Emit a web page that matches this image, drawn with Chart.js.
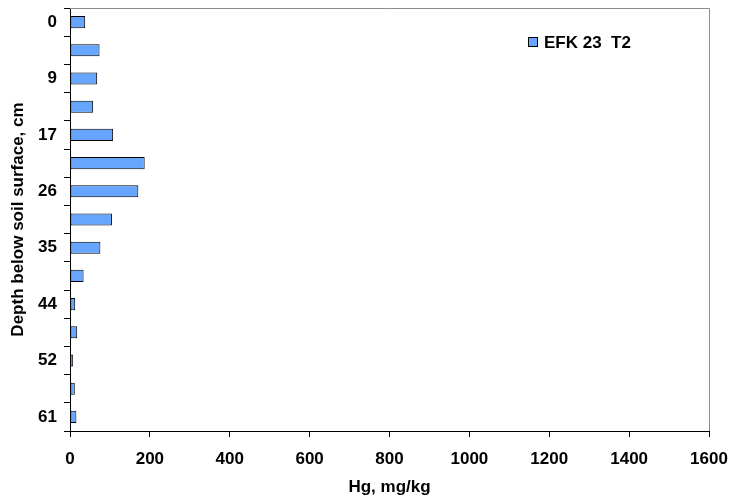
<!DOCTYPE html>
<html>
<head>
<meta charset="utf-8">
<script src="https://cdn.jsdelivr.net/npm/chart.js@4.4.1/dist/chart.umd.min.js"></script>
<style>
  html, body { margin: 0; padding: 0; background: #fff; }
  #wrap { width: 730px; height: 498px; }
</style>
</head>
<body>
<div id="wrap"><canvas id="depthChart"></canvas></div>
<script>
// depth labels (only every other row is labelled in the original)
const depthLabels = ['0', '', '9', '', '17', '', '26', '', '35', '', '44', '', '52', '', '61'];
// Hg concentration, mg/kg
const hgValues = [38, 74, 68, 58, 108, 187, 171, 105, 76, 34, 13, 18, 8, 12, 16];
const xTicks = [0, 200, 400, 600, 800, 1000, 1200, 1400, 1600];
const seriesName = 'EFK 23  T2';

const FONT = 'Arial, "Liberation Sans", sans-serif';

// gray frame on top and right of the plot area
const framePlugin = {
    id: 'framePlugin',
    beforeDatasetsDraw: (chart) => {
        const ctx = chart.ctx;
        const { top, right, left, bottom } = chart.chartArea;
        ctx.save();
        ctx.strokeStyle = '#8c8c8c';
        ctx.lineWidth = 1;
        ctx.beginPath();
        ctx.moveTo(left, top + 0.5);
        ctx.lineTo(right + 0.5, top + 0.5);
        ctx.lineTo(right + 0.5, bottom);
        ctx.stroke();
        ctx.restore();
    }
};

// legend box inside plot area
const legendPlugin = {
    id: 'legendPlugin',
    afterDraw: (chart) => {
        const ctx = chart.ctx;
        const ds = chart.data.datasets[0];
        ctx.save();
        ctx.fillStyle = ds.backgroundColor;
        ctx.strokeStyle = '#000';
        ctx.lineWidth = 1;
        ctx.fillRect(528, 37, 10, 10);
        ctx.strokeRect(528.5, 37.5, 9, 9);
        ctx.fillStyle = '#000';
        ctx.font = 'bold 17px ' + FONT;
        ctx.textAlign = 'left';
        ctx.textBaseline = 'middle';
        ctx.fillText(ds.label, 544, 43);
        ctx.restore();
    }
};

const ctx = document.getElementById('depthChart').getContext('2d');
const chart = new Chart(ctx, {
    type: 'bar',
    data: {
        labels: depthLabels,
        datasets: [{
            label: seriesName,
            data: hgValues,
            backgroundColor: '#66a6ff',
            borderColor: '#000',
            borderWidth: 1,
            borderSkipped: false,
            barPercentage: 0.43,
            categoryPercentage: 1
        }]
    },
    options: {
        indexAxis: 'y',
        responsive: true,
        maintainAspectRatio: false,
        animation: false,
        layout: {
            padding: { top: 8, right: 21, left: 0, bottom: 0 }
        },
        scales: {
            x: {
                min: 0,
                max: 1600,
                afterBuildTicks: (axis) => {
                    axis.ticks = xTicks.map(v => ({ value: v }));
                },
                afterFit: (axis) => {
                    axis.height = 67;
                    axis.paddingLeft = 0;
                    axis.paddingRight = 0;
                },
                grid: {
                    display: true,
                    drawOnChartArea: false,
                    drawTicks: true,
                    tickLength: 6,
                    color: '#000'
                },
                border: { color: '#000', width: 1 },
                ticks: {
                    color: '#000',
                    padding: 12,
                    font: { family: FONT, size: 17, weight: 'bold' },
                    maxRotation: 0,
                    callback: (v) => String(v)
                },
                title: {
                    display: true,
                    text: 'Hg, mg/kg',
                    color: '#000',
                    font: { family: FONT, size: 17, weight: 'bold' },
                    padding: { top: 5, bottom: 0 }
                }
            },
            y: {
                offset: true,
                afterFit: (axis) => {
                    axis.width = 70;
                    axis.paddingTop = 0;
                    axis.paddingBottom = 0;
                },
                grid: {
                    display: true,
                    offset: true,
                    drawOnChartArea: false,
                    drawTicks: true,
                    tickLength: 6,
                    color: '#000'
                },
                border: { color: '#000', width: 1 },
                ticks: {
                    color: '#000',
                    padding: 7,
                    autoSkip: false,
                    font: { family: FONT, size: 17, weight: 'bold' }
                },
                title: {
                    display: true,
                    text: 'Depth below soil surface, cm',
                    color: '#000',
                    font: { family: FONT, size: 17, weight: 'bold' },
                    padding: { top: 8, bottom: 0 }
                }
            }
        },
        plugins: {
            legend: { display: false },
            tooltip: { enabled: false }
        }
    },
    plugins: [framePlugin, legendPlugin]
});
</script>
</body>
</html>
